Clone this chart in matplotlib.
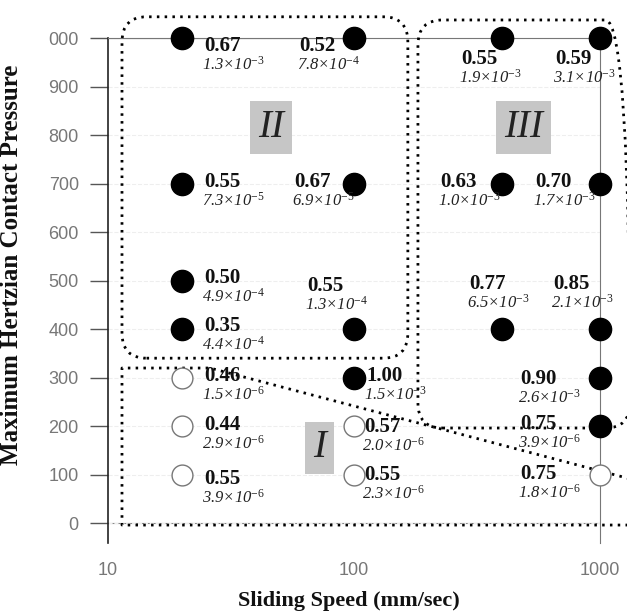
import matplotlib
matplotlib.use('Agg')
import matplotlib.pyplot as plt
from matplotlib.patches import FancyBboxPatch
from matplotlib.ticker import NullLocator

plt.rcParams['font.family'] = ['Liberation Sans', 'DejaVu Sans']
plt.rcParams['mathtext.fontset'] = 'custom'
plt.rcParams['mathtext.rm'] = 'Liberation Serif'
plt.rcParams['mathtext.it'] = 'Liberation Serif:italic'
plt.rcParams['mathtext.bf'] = 'Liberation Serif:bold'

# test matrix: sliding speed (mm/sec) vs max hertzian contact pressure
speed = [20, 20, 20, 20, 20, 20, 20,
         100, 100, 100, 100, 100, 100,
         400, 400, 400,
         1000, 1000, 1000, 1000, 1000, 1000]
pressure = [1000, 700, 500, 400, 300, 200, 100,
            1000, 700, 400, 300, 200, 100,
            1000, 700, 400,
            1000, 700, 400, 300, 200, 100]
# friction coefficient and wear rate (mantissa x 10^exp)
friction = ['0.67', '0.55', '0.50', '0.35', '0.46', '0.44', '0.55',
            '0.52', '0.67', '0.55', '1.00', '0.57', '0.55',
            '0.55', '0.63', '0.77',
            '0.59', '0.70', '0.85', '0.90', '0.75', '0.75']
wear_mant = ['1.3', '7.3', '4.9', '4.4', '1.5', '2.9', '3.9',
             '7.8', '6.9', '1.3', '1.5', '2.0', '2.3',
             '1.9', '1.0', '6.5',
             '3.1', '1.7', '2.1', '2.6', '3.9', '1.8']
wear_exp = [-3, -5, -4, -4, -6, -6, -6,
            -4, -5, -4, -3, -6, -6,
            -3, -3, -3,
            -3, -3, -3, -3, -6, -6]
# 1 = filled (severe wear), 0 = open (mild wear)
filled = [1, 1, 1, 1, 0, 0, 0,
          1, 1, 1, 1, 0, 0,
          1, 1, 1,
          1, 1, 1, 1, 1, 0]

y_ticks = [0, 100, 200, 300, 400, 500, 600, 700, 800, 900, 1000]
y_ticklabels = ['0', '100', '200', '300', '400', '500', '600', '700', '800', '900', '000']
x_ticks = [10, 100, 1000]
x_ticklabels = ['10', '100', '1000']

regime_names = ['I', 'II', 'III']
regime_speed = [72.6, 46, 488]
regime_pressure = [155, 816, 816]

# label placement (pixels, dx right / dy down from the point)
lab_dx = [22, 22, 22, 22, 22, 22, 22,
          -55, -60, -47, 12, 10, 10,
          -41, -62, -33,
          -45, -65, -47, -80, -80, -80]
lab_dy = [8, -2, -3, -3, -2, -1, 4,
          8, -2, -43, -2, 1, 0,
          21, -2, -45,
          21, -2, -45, 1, -2, -1]

fig = plt.figure(figsize=(6.27, 6.14), dpi=100)
ax = fig.add_axes([0.1722, 0.1156, 0.7847, 0.8225])

ax.set_xscale('log')
ax.set_xlim(10, 1000)
ax.set_ylim(-41, 1000)

ax.grid(axis='y', color='#eeeeee', lw=0.8, ls='--')
ax.axhline(0, color='#888888', lw=0.8, zorder=1)
ax.axhline(1000, xmax=0.5, color='black', lw=1.5, zorder=2)

for i in range(len(speed)):
    if filled[i]:
        ax.plot(speed[i], pressure[i], 'o', ms=16, mfc='black', mec='black',
                clip_on=False, zorder=5)
    else:
        ax.plot(speed[i], pressure[i], 'o', ms=15, mfc='white', mec='#777777',
                mew=1, clip_on=False, zorder=5)
    ax.annotate(friction[i], (speed[i], pressure[i]),
                xytext=(lab_dx[i] * 0.72, -lab_dy[i] * 0.72), textcoords='offset points',
                ha='left', va='center', fontsize=15, fontweight='bold',
                family='Liberation Serif', color='#111111', zorder=6)
    wtxt = '%s\u00d710$^{%d}$' % (wear_mant[i], wear_exp[i])
    ax.annotate(wtxt, (speed[i], pressure[i]),
                xytext=((lab_dx[i] - 2) * 0.72, -(lab_dy[i] + 19) * 0.72),
                textcoords='offset points', ha='left', va='center',
                fontsize=12, style='italic', family='Liberation Serif',
                color='#222222', zorder=6)

for name, s, p in zip(regime_names, regime_speed, regime_pressure):
    ax.text(s, p, name, ha='center', va='center', fontsize=28, style='italic',
            family='Liberation Serif', color='#222222', zorder=4,
            bbox=dict(boxstyle='square,pad=0.2', fc='#c6c6c6', ec='none'))

# regime boundaries (hand drawn dotted outlines)
dots = (0, (0.9, 1.9))
box2 = FancyBboxPatch((0.0285, 0.366), 0.581, 0.676,
                      boxstyle='round,pad=0,rounding_size=0.05',
                      transform=ax.transAxes, clip_on=False, fill=False,
                      ec='black', lw=2, ls=dots, zorder=3)
box3 = FancyBboxPatch((0.630, 0.2277), 0.431, 0.808,
                      boxstyle='round,pad=0,rounding_size=0.05',
                      transform=ax.transAxes, clip_on=False, fill=False,
                      ec='black', lw=2, ls=dots, zorder=3)
ax.add_patch(box2)
ax.add_patch(box3)
ax.plot([1.08, 0.0285, 0.0285, 0.2073, 1.08], [0.0356, 0.0356, 0.3465, 0.3465, 0.1222],
        transform=ax.transAxes, clip_on=False, color='black', lw=2, ls=dots, zorder=3)

ax.spines['bottom'].set_visible(False)
ax.spines['left'].set_color('#222222')
ax.spines['left'].set_linewidth(1.2)
ax.spines['top'].set_color('#777777')
ax.spines['top'].set_linewidth(0.8)
ax.spines['right'].set_color('#777777')
ax.spines['right'].set_linewidth(0.8)

ax.set_yticks(y_ticks)
ax.set_yticklabels(y_ticklabels)
ax.set_xticks(x_ticks)
ax.set_xticklabels(x_ticklabels)
ax.xaxis.set_minor_locator(NullLocator())
ax.tick_params(axis='y', direction='out', length=13, width=1, color='#555555',
               labelsize=13, labelcolor='#777777', pad=8)
ax.tick_params(axis='x', length=0, labelsize=13, labelcolor='#777777', pad=14)

ax.set_xlabel('Sliding Speed (mm/sec)', fontsize=16, fontweight='bold',
              family='Liberation Serif', color='#111111')
ax.set_ylabel('Maximum Hertzian Contact Pressure', fontsize=18, fontweight='bold',
              family='Liberation Serif', color='#111111')
ax.xaxis.set_label_coords(0.49, -0.095)
ax.yaxis.set_label_coords(-0.172, 0.55)

fig.savefig('out.png', dpi=100)
